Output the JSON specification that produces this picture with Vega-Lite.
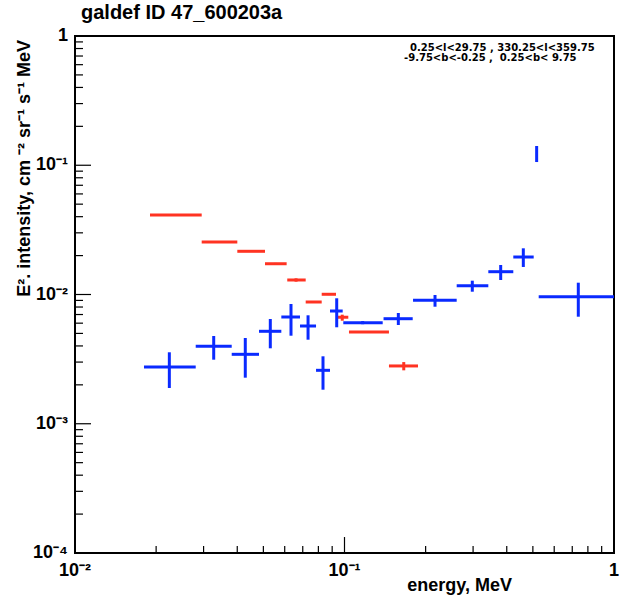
{
  "$schema": "https://vega.github.io/schema/vega-lite/v6.json",
  "width": 539,
  "height": 517,
  "autosize": "none",
  "padding": {"left": 75, "top": 36, "right": 11, "bottom": 42},
  "background": "white",
  "config": {
    "view": {"stroke": "black", "strokeWidth": 2},
    "font": "Liberation Sans"
  },
  "title": {"text": "galdef ID 47_600203a", "anchor": "start", "frame": "group", "offset": 4, "dx": 6, "fontSize": 20, "fontWeight": "bold", "font": "Liberation Sans", "color": "black"},
  "datasets": {
    "pts": [
      {"series": "B", "x1": 0.01803, "x2": 0.02805, "xc": 0.02239, "y": 0.002748, "ylo": 0.001891, "yhi": 0.003572},
      {"series": "B", "x1": 0.02805, "x2": 0.03815, "xc": 0.03271, "y": 0.003974, "ylo": 0.003131, "yhi": 0.004775},
      {"series": "B", "x1": 0.03815, "x2": 0.04816, "xc": 0.04284, "y": 0.003445, "ylo": 0.002272, "yhi": 0.004607},
      {"series": "B", "x1": 0.04816, "x2": 0.05829, "xc": 0.05305, "y": 0.005192, "ylo": 0.003835, "yhi": 0.006461},
      {"series": "B", "x1": 0.05829, "x2": 0.06838, "xc": 0.06331, "y": 0.006698, "ylo": 0.0048, "yhi": 0.008443},
      {"series": "B", "x1": 0.06838, "x2": 0.07841, "xc": 0.07324, "y": 0.005705, "ylo": 0.00447, "yhi": 0.006904},
      {"series": "B", "x1": 0.07841, "x2": 0.08835, "xc": 0.08322, "y": 0.002591, "ylo": 0.001834, "yhi": 0.003325},
      {"series": "B", "x1": 0.08835, "x2": 0.09847, "xc": 0.09356, "y": 0.007452, "ylo": 0.005576, "yhi": 0.009347},
      {"series": "B", "x1": 0.09897, "x2": 0.1386, "xc": 0.1168, "y": 0.006051, "ylo": 0.00589, "yhi": 0.00622},
      {"series": "B", "x1": 0.1396, "x2": 0.1791, "xc": 0.1584, "y": 0.006497, "ylo": 0.005808, "yhi": 0.007193},
      {"series": "B", "x1": 0.1796, "x2": 0.2608, "xc": 0.2167, "y": 0.009016, "ylo": 0.008045, "yhi": 0.00991},
      {"series": "B", "x1": 0.2608, "x2": 0.3417, "xc": 0.298, "y": 0.0117, "ylo": 0.01051, "yhi": 0.01279},
      {"series": "B", "x1": 0.3417, "x2": 0.423, "xc": 0.3798, "y": 0.01501, "ylo": 0.01295, "yhi": 0.01692},
      {"series": "B", "x1": 0.423, "x2": 0.5035, "xc": 0.4608, "y": 0.0195, "ylo": 0.01633, "yhi": 0.02277},
      {"series": "B", "x1": 0.5164, "x2": 0.5164, "xc": 0.5164, "y": 0.1222, "ylo": 0.1059, "yhi": 0.1409},
      {"series": "B", "x1": 0.5255, "x2": 1.0, "xc": 0.7371, "y": 0.009616, "ylo": 0.006733, "yhi": 0.01234},
      {"series": "R", "x1": 0.01898, "x2": 0.02952, "xc": 0.02367, "y": 0.0412, "ylo": 0.0412, "yhi": 0.0412},
      {"series": "R", "x1": 0.02952, "x2": 0.04002, "xc": 0.03437, "y": 0.02547, "ylo": 0.02547, "yhi": 0.02547},
      {"series": "R", "x1": 0.04002, "x2": 0.0507, "xc": 0.04505, "y": 0.02159, "ylo": 0.02159, "yhi": 0.02159},
      {"series": "R", "x1": 0.0507, "x2": 0.061, "xc": 0.0556, "y": 0.0173, "ylo": 0.01705, "yhi": 0.01755},
      {"series": "R", "x1": 0.06132, "x2": 0.07178, "xc": 0.0661, "y": 0.01295, "ylo": 0.01257, "yhi": 0.01334},
      {"series": "R", "x1": 0.07178, "x2": 0.0823, "xc": 0.0766, "y": 0.00875, "ylo": 0.00862, "yhi": 0.00888},
      {"series": "R", "x1": 0.0823, "x2": 0.093, "xc": 0.0876, "y": 0.01004, "ylo": 0.0099, "yhi": 0.01018},
      {"series": "R", "x1": 0.093, "x2": 0.1033, "xc": 0.0981, "y": 0.00667, "ylo": 0.00627, "yhi": 0.00698},
      {"series": "R", "x1": 0.1039, "x2": 0.1462, "xc": 0.1233, "y": 0.00513, "ylo": 0.00506, "yhi": 0.0052},
      {"series": "R", "x1": 0.1462, "x2": 0.1874, "xc": 0.1659, "y": 0.0028, "ylo": 0.00259, "yhi": 0.003}
    ],
    "xminor": [
      {"v": 0.02}, {"v": 0.03}, {"v": 0.04}, {"v": 0.05}, {"v": 0.06}, {"v": 0.07}, {"v": 0.08}, {"v": 0.09},
      {"v": 0.2}, {"v": 0.3}, {"v": 0.4}, {"v": 0.5}, {"v": 0.6}, {"v": 0.7}, {"v": 0.8}, {"v": 0.9}
    ],
    "xmajor": [
      {"v": 0.01, "t": "10⁻²"}, {"v": 0.1, "t": "10⁻¹"}, {"v": 1, "t": "1"}
    ],
    "yminor": [
      {"v": 0.0002}, {"v": 0.0003}, {"v": 0.0004}, {"v": 0.0005}, {"v": 0.0006}, {"v": 0.0007}, {"v": 0.0008}, {"v": 0.0009},
      {"v": 0.002}, {"v": 0.003}, {"v": 0.004}, {"v": 0.005}, {"v": 0.006}, {"v": 0.007}, {"v": 0.008}, {"v": 0.009},
      {"v": 0.02}, {"v": 0.03}, {"v": 0.04}, {"v": 0.05}, {"v": 0.06}, {"v": 0.07}, {"v": 0.08}, {"v": 0.09},
      {"v": 0.2}, {"v": 0.3}, {"v": 0.4}, {"v": 0.5}, {"v": 0.6}, {"v": 0.7}, {"v": 0.8}, {"v": 0.9}
    ],
    "ymajor": [
      {"v": 0.0001, "t": "10⁻⁴"}, {"v": 0.001, "t": "10⁻³"}, {"v": 0.01, "t": "10⁻²"}, {"v": 0.1, "t": "10⁻¹"}, {"v": 1, "t": "1"}
    ],
    "xtitle": [{"t": "energy, MeV"}],
    "ytitle": [{"t": "E². intensity, cm ⁻² sr⁻¹ s⁻¹ MeV"}],
    "notes": [
      {"line": "0.25<l<29.75 , 330.25<l<359.75"}
    ],
    "notes2": [
      {"line": "-9.75<b<-0.25 , \u00a00.25<b< 9.75"}
    ]
  },
  "layer": [
    {
      "data": {"name": "pts"},
      "mark": {"type": "rule", "strokeWidth": 3},
      "encoding": {
        "x": {"field": "x1", "type": "quantitative", "scale": {"type": "log", "domain": [0.01, 1], "nice": false}, "axis": null},
        "x2": {"field": "x2"},
        "y": {"field": "y", "type": "quantitative", "scale": {"type": "log", "domain": [0.0001, 1], "nice": false}, "axis": null},
        "color": {"field": "series", "type": "nominal", "scale": {"domain": ["B", "R"], "range": ["#0a2aff", "#ff3322"]}, "legend": null}
      }
    },
    {
      "data": {"name": "pts"},
      "mark": {"type": "rule", "strokeWidth": 3},
      "encoding": {
        "x": {"field": "xc", "type": "quantitative", "axis": null},
        "y": {"field": "ylo", "type": "quantitative", "axis": null},
        "y2": {"field": "yhi"},
        "color": {"field": "series", "type": "nominal"}
      }
    },
    {
      "data": {"name": "xminor"},
      "mark": {"type": "rule", "strokeWidth": 1.2, "color": "black"},
      "encoding": {
        "x": {"field": "v", "type": "quantitative", "axis": null},
        "y": {"datum": 0.0001, "type": "quantitative", "axis": null},
        "y2": {"datum": 0.0001133}
      }
    },
    {
      "data": {"name": "xmajor"},
      "mark": {"type": "rule", "strokeWidth": 1.2, "color": "black"},
      "encoding": {
        "x": {"field": "v", "type": "quantitative", "axis": null},
        "y": {"datum": 0.0001, "type": "quantitative", "axis": null},
        "y2": {"datum": 0.0001329}
      }
    },
    {
      "data": {"name": "yminor"},
      "mark": {"type": "rule", "strokeWidth": 1.2, "color": "black"},
      "encoding": {
        "y": {"field": "v", "type": "quantitative", "axis": null},
        "x": {"datum": 0.01, "type": "quantitative", "axis": null},
        "x2": {"datum": 0.010707}
      }
    },
    {
      "data": {"name": "ymajor"},
      "mark": {"type": "rule", "strokeWidth": 1.2, "color": "black"},
      "encoding": {
        "y": {"field": "v", "type": "quantitative", "axis": null},
        "x": {"datum": 0.01, "type": "quantitative", "axis": null},
        "x2": {"datum": 0.011466}
      }
    },
    {
      "data": {"name": "xmajor"},
      "mark": {"type": "text", "font": "Liberation Sans", "fontWeight": "bold", "fontSize": 18, "align": "center", "baseline": "top", "color": "black"},
      "encoding": {
        "x": {"field": "v", "type": "quantitative", "axis": null},
        "y": {"datum": 0.0000852, "type": "quantitative", "axis": null},
        "text": {"field": "t"}
      }
    },
    {
      "data": {"name": "ymajor"},
      "mark": {"type": "text", "font": "Liberation Sans", "fontWeight": "bold", "fontSize": 18, "align": "right", "baseline": "middle", "color": "black"},
      "encoding": {
        "y": {"field": "v", "type": "quantitative", "axis": null},
        "x": {"datum": 0.00942, "type": "quantitative", "axis": null},
        "text": {"field": "t"}
      }
    },
    {
      "data": {"name": "xtitle"},
      "mark": {"type": "text", "font": "Liberation Sans", "fontWeight": "bold", "fontSize": 18, "align": "right", "baseline": "alphabetic", "color": "black"},
      "encoding": {
        "x": {"datum": 0.4182, "type": "quantitative", "axis": null},
        "y": {"datum": 0.0000508, "type": "quantitative", "axis": null},
        "text": {"field": "t"}
      }
    },
    {
      "data": {"name": "ytitle"},
      "mark": {"type": "text", "font": "Liberation Sans", "fontWeight": "bold", "fontSize": 18, "align": "right", "baseline": "alphabetic", "angle": 270, "color": "black"},
      "encoding": {
        "x": {"datum": 0.006808, "type": "quantitative", "axis": null},
        "y": {"datum": 0.9313, "type": "quantitative", "axis": null},
        "text": {"field": "t"}
      }
    },
    {
      "data": {"name": "notes"},
      "mark": {"type": "text", "font": "DejaVu Sans", "fontWeight": "bold", "fontSize": 10, "align": "left", "baseline": "alphabetic", "color": "black"},
      "encoding": {"x": {"datum": 0.175, "type": "quantitative", "axis": null}, "y": {"datum": 0.772, "type": "quantitative", "axis": null}, "text": {"field": "line"}}
    },
    {
      "data": {"name": "notes2"},
      "mark": {"type": "text", "font": "DejaVu Sans", "fontWeight": "bold", "fontSize": 10, "align": "left", "baseline": "alphabetic", "color": "black"},
      "encoding": {"x": {"datum": 0.1663, "type": "quantitative", "axis": null}, "y": {"datum": 0.6406, "type": "quantitative", "axis": null}, "text": {"field": "line"}}
    }
  ]
}
